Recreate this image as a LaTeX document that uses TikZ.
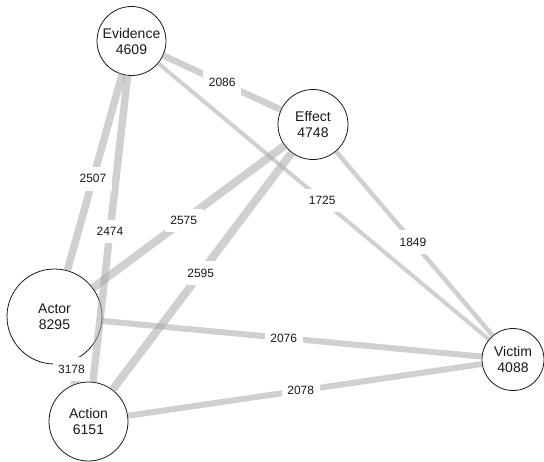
\documentclass[tikz,border=0pt]{standalone}
\usepackage{fontspec}
\setmainfont{Liberation Sans}
\definecolor{linkGray}{RGB}{170,170,170}
\definecolor{inkBlack}{RGB}{25,25,25}
\tikzset{
  topic node/.style={circle,draw=inkBlack,fill=white,line width=.8pt,align=center,inner sep=0pt,text=inkBlack,font=\fontsize{14}{16}\selectfont},
  topic link/.style={draw=linkGray,opacity=.55,line cap=butt},
  link label/.style={fill=white,inner xsep=5.5pt,inner ysep=7.5pt,text=inkBlack,font=\fontsize{12}{14}\selectfont}
}

\begin{document}
\begin{tikzpicture}[x=1pt,y=-1pt]
  \useasboundingbox (0,0) rectangle (544,461);
  % topics, sized by count
  \node[topic node,minimum size=69pt] (evidence) at (131.5,41) {Evidence\\4609};
  \node[topic node,minimum size=70pt] (effect) at (313,124.5) {Effect\\4748};
  \node[topic node,minimum size=95pt] (actor) at (54.5,316.5) {Actor\\8295};
  \node[topic node,minimum size=79pt] (action) at (88.5,421.5) {Action\\6151};
  \node[topic node,minimum size=62pt] (victim) at (513,359.5) {Victim\\4088};
  % co-occurrence links, width by weight
  \foreach \a/\b/\w in {evidence/effect/6.5,evidence/actor/7.5,evidence/action/7.5,evidence/victim/4,
                        effect/actor/8,effect/action/8,effect/victim/4.5,
                        actor/victim/6,actor/action/10,action/victim/6}
    \draw[topic link,line width=\w pt] (\a) -- (\b);
  \foreach \a/\b/\n in {evidence/effect/2086,evidence/actor/2507,evidence/action/2474,evidence/victim/1725,
                        effect/actor/2575,effect/action/2595,effect/victim/1849,
                        actor/victim/2076,actor/action/3178,action/victim/2078}
    \path (\a.center) -- node[link label] {\n} (\b.center);
\end{tikzpicture}
\end{document}
